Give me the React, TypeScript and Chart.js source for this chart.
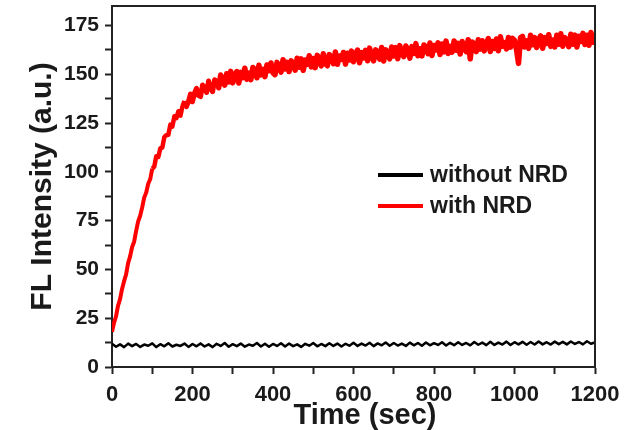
import React, { useEffect, useRef } from "react";
import { Chart, registerables } from "chart.js";

Chart.register(...registerables);

// Sampling intervals of the recorded traces (seconds)
const BLACK_STEP_SEC = 10;
const RED_STEP_SEC = 5;

// FL intensity without NRD (t = 0 .. 1200 s, every 10 s)
const withoutNRD = [
  11.9, 10.4, 11.6, 10.2, 12.0, 10.7, 11.8, 10.3, 11.5, 10.9, 12.1, 10.2, 11.7, 10.6, 12.2, 10.5, 11.4, 10.8, 12.0, 10.3,
  11.8, 10.6, 12.1, 10.5, 11.6, 10.2, 11.9, 10.8, 12.3, 10.4, 11.7, 10.7, 12.0, 10.4, 11.5, 10.9, 12.3, 10.5, 11.9, 10.4,
  11.8, 10.8, 12.2, 10.5, 12.0, 10.7, 11.6, 10.3, 11.9, 10.9, 12.3, 10.6, 11.8, 10.7, 12.2, 10.8, 12.0, 10.5, 11.9, 10.9,
  12.4, 10.8, 12.0, 11.0, 12.4, 10.7, 12.1, 11.1, 12.6, 10.9, 12.3, 11.0, 12.0, 10.8, 12.5, 11.1, 12.3, 10.9, 12.6, 11.1,
  12.2, 11.3, 12.7, 11.0, 12.4, 11.2, 12.7, 11.3, 12.3, 11.1, 12.8, 11.4, 12.5, 11.2, 12.9, 11.3, 12.5, 11.5, 13.0, 11.3,
  12.7, 11.6, 12.9, 11.4, 12.8, 11.5, 13.1, 11.6, 12.7, 11.5, 13.0, 11.7, 12.9, 11.6, 13.1, 11.8, 12.8, 11.6, 13.2, 11.9,
  12.6,
];

// FL intensity with NRD (t = 0 .. 1200 s, every 5 s)
const withNRD = [
  18, 22.6, 26, 31.4, 34.8, 40, 44, 47.4, 53.2, 56.7,
  61.5, 64.2, 69.8, 74.6, 77.5, 81.8, 86.8, 89.4, 93.9, 96.3,
  101.7, 102.7, 108, 107.6, 112, 112.4, 117.8, 118.8, 119, 124.2,
  123.2, 128.5, 127.5, 131.1, 128.8, 133.5, 136.3, 133.4, 136.1, 139.9,
  135.9, 140.4, 142.8, 139.1, 138.6, 144.5, 143.1, 140.7, 146.6, 142.8,
  141.1, 147.2, 146.5, 143.1, 149.6, 145.9, 144.5, 150.3, 146.1, 151.5,
  145.6, 149.4, 151.4, 145.5, 151, 148.3, 153.1, 147.5, 150.6, 147.3,
  153.5, 152.2, 148.2, 154.6, 149.7, 152.5, 148.8, 154.8, 151.9, 155.8,
  150.8, 149.8, 156.1, 154, 151.1, 157.5, 152.7, 156.1, 151.4, 156.9,
  155.6, 152.1, 158.2, 153.6, 157.9, 152, 157.3, 155.1, 159.5, 153.8,
  158.1, 153.4, 159.7, 157.2, 154.3, 160.5, 155.5, 154.4, 160.1, 158.7,
  155.4, 161.4, 155.1, 159.4, 157.6, 161.2, 155.2, 160.8, 157.3, 161.9,
  156.4, 160, 162.4, 155.9, 161.1, 158.4, 162.3, 156.9, 163.4, 159.1,
  156.9, 162.5, 161.4, 157.8, 163.7, 156.8, 162.5, 161.1, 157.9, 164,
  159.4, 163.7, 158, 164.7, 160.5, 159.1, 164.5, 162.7, 158.3, 164.2,
  160.7, 165.7, 159.5, 163.1, 159.4, 165, 164, 160.5, 166, 159.6,
  164.8, 162.5, 166.1, 160.1, 165.5, 161.5, 167, 160.7, 164.3, 161.4,
  167.1, 162.3, 165.9, 160.4, 166.8, 163.7, 161.6, 167.7, 157.9, 166.5,
  165.7, 161.6, 167.7, 162.9, 167.2, 162, 165.9, 168.3, 161.7, 166.8,
  163.2, 168.1, 162.1, 169.2, 164.4, 166.2, 163, 168.9, 163.9, 168.4,
  167.4, 162.6, 155.6, 168.8, 169.4, 164, 167.1, 163.3, 170, 165.1,
  168.8, 163.7, 167.7, 169.7, 163.3, 168.8, 165.8, 170.3, 164.3, 167.5,
  164, 170, 165.4, 170.8, 164.4, 168.8, 167.5, 164.2, 170.5, 165.4,
  170.1, 164, 169.5, 166.9, 171, 165.3, 170, 164.9, 171.4, 166.4,
  169,
];

const seriesLabels = ["without NRD", "with NRD"];
const seriesColors = ["#000000", "#ff0000"];

const yTickLabels = [0, 25, 50, 75, 100, 125, 150, 175];
const yMinorTicks = [12.5, 37.5, 62.5, 87.5, 112.5, 137.5, 162.5];
const xTickLabels = [0, 200, 400, 600, 800, 1000, 1200];

const yAxisTitle = "FL Intensity (a.u.)";
const xAxisTitle = "Time (sec)";

const FONT = "'Liberation Sans', Arial, Helvetica, sans-serif";
const AXIS_COLOR = "#222222";
const TEXT_COLOR = "#1a1a1a";

const toPoints = (vals: number[], step: number) => vals.map((v, i) => ({ x: i * step, y: v }));

const framePlugin = {
  id: "frameBox",
  afterDatasetsDraw(chart: any) {
    const { ctx, chartArea } = chart;
    ctx.save();
    ctx.strokeStyle = AXIS_COLOR;
    ctx.lineWidth = 2;
    ctx.beginPath();
    ctx.moveTo(chartArea.left, chartArea.top);
    ctx.lineTo(chartArea.right, chartArea.top);
    ctx.lineTo(chartArea.right, chartArea.bottom);
    ctx.stroke();
    ctx.restore();
  },
};

const legendPlugin = {
  id: "insideLegend",
  afterDatasetsDraw(chart: any) {
    const { ctx } = chart;
    const x0 = 378;
    const y0 = 175;
    const gap = 31;
    ctx.save();
    chart.data.datasets.forEach((ds: any, i: number) => {
      const y = y0 + i * gap;
      ctx.strokeStyle = ds.borderColor;
      ctx.lineWidth = 4;
      ctx.beginPath();
      ctx.moveTo(x0, y);
      ctx.lineTo(x0 + 45, y);
      ctx.stroke();
      ctx.fillStyle = TEXT_COLOR;
      ctx.font = `bold 23px ${FONT}`;
      ctx.textBaseline = "middle";
      ctx.textAlign = "left";
      ctx.fillText(ds.label, x0 + 52, y + 1);
    });
    ctx.restore();
  },
};

const xTitlePlugin = {
  id: "xTitle",
  afterDraw(chart: any) {
    const { ctx } = chart;
    ctx.save();
    ctx.fillStyle = TEXT_COLOR;
    ctx.font = `bold 29px ${FONT}`;
    ctx.textAlign = "center";
    ctx.textBaseline = "alphabetic";
    ctx.fillText(xAxisTitle, 365, 424);
    ctx.restore();
  },
};

const redWidth = (ctx: any) => {
  const x = ctx.p0.parsed.x;
  if (x < 100) return 4;
  if (x < 180) return 4.5;
  if (x < 260) return 5;
  return 5.5;
};

export default function App() {
  const canvasRef = useRef<HTMLCanvasElement | null>(null);

  useEffect(() => {
    if (!canvasRef.current) return;
    const chart = new Chart(canvasRef.current, {
      type: "line",
      data: {
        datasets: [
          {
            label: seriesLabels[0],
            data: toPoints(withoutNRD, BLACK_STEP_SEC),
            borderColor: seriesColors[0],
            borderWidth: 2.5,
            borderJoinStyle: "round",
            pointRadius: 0,
            tension: 0,
          },
          {
            label: seriesLabels[1],
            data: toPoints(withNRD, RED_STEP_SEC),
            borderColor: seriesColors[1],
            borderWidth: 4,
            borderJoinStyle: "round",
            segment: { borderWidth: redWidth },
            pointRadius: 0,
            tension: 0,
          },
        ],
      },
      options: {
        responsive: false,
        animation: false,
        devicePixelRatio: 1,
        layout: { padding: { top: 6, right: 44, left: 0, bottom: 0 } },
        plugins: {
          legend: { display: false },
          tooltip: { enabled: false },
        },
        scales: {
          x: {
            type: "linear",
            min: 0,
            max: 1200,
            afterFit: (scale: any) => {
              scale.height = 63;
            },
            border: { display: true, color: AXIS_COLOR, width: 2 },
            grid: {
              drawOnChartArea: false,
              drawTicks: true,
              tickLength: 7,
              tickColor: AXIS_COLOR,
              tickWidth: 2,
            },
            ticks: {
              stepSize: 100,
              autoSkip: false,
              maxRotation: 0,
              padding: 8,
              color: TEXT_COLOR,
              font: { family: FONT, size: 22, weight: "bold" },
              callback: (v: any) => (xTickLabels.includes(Number(v)) ? String(v) : ""),
            },
          },
          y: {
            type: "linear",
            min: 0,
            max: 185,
            afterFit: (scale: any) => {
              scale.width = 112;
              scale.paddingTop = 0;
              scale.paddingBottom = 0;
            },
            afterBuildTicks: (scale: any) => {
              scale.ticks = [...yTickLabels, ...yMinorTicks]
                .sort((a, b) => a - b)
                .map((value) => ({ value }));
            },
            border: { display: true, color: AXIS_COLOR, width: 2 },
            grid: {
              drawOnChartArea: false,
              drawTicks: true,
              tickLength: 7,
              tickColor: AXIS_COLOR,
              tickWidth: 2,
            },
            ticks: {
              autoSkip: false,
              padding: 6,
              color: TEXT_COLOR,
              font: { family: FONT, size: 21, weight: "bold" },
              callback: (v: any) => (yTickLabels.includes(Number(v)) ? String(v) : ""),
            },
            title: {
              display: true,
              text: yAxisTitle,
              color: TEXT_COLOR,
              font: { family: FONT, size: 30, weight: "bold" },
              padding: { top: 25, bottom: 0 },
            },
          },
        },
      },
      plugins: [framePlugin, legendPlugin, xTitlePlugin],
    });
    return () => chart.destroy();
  }, []);

  return (
    <div style={{ position: "absolute", left: 0, top: 0, width: 639, height: 430, background: "#fff" }}>
      <canvas ref={canvasRef} width={639} height={430} style={{ display: "block" }} />
    </div>
  );
}
